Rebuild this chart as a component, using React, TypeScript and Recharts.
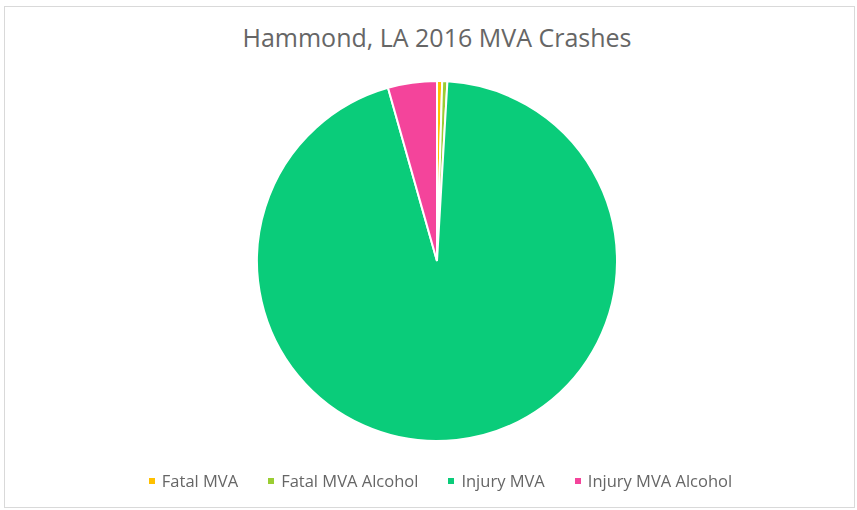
import { PieChart, Pie, Cell, Legend } from 'recharts'

// Hammond, LA 2016 motor vehicle crashes (counts)
const categories = ['Fatal MVA', 'Fatal MVA Alcohol', 'Injury MVA', 'Injury MVA Alcohol']
const crashCounts = [4, 4, 820, 38]
const sliceColors = ['#FFC000', '#9ACD32', '#0ACC7A', '#F4449B']

const data = categories.map((name, i) => ({ name, value: crashCounts[i] }))

const FONT = '"Open Sans", "Noto Sans", sans-serif'

function LegendRow({ payload }: { payload?: { value: string; color: string }[] }) {
  const items = payload ?? []
  return (
    <div style={{ display: 'flex', justifyContent: 'center', gap: 30, fontFamily: FONT, fontSize: 16.5, color: '#666', lineHeight: '20px' }}>
      {items.map((item) => (
        <div key={item.value} style={{ display: 'flex', alignItems: 'center' }}>
          <span style={{ width: 6, height: 6, background: item.color, marginRight: 7, display: 'inline-block' }} />
          <span>{item.value}</span>
        </div>
      ))}
    </div>
  )
}

export default function App() {
  return (
    <div
      style={{
        position: 'fixed',
        left: 0,
        top: 0,
        width: 857,
        height: 510,
        background: '#fff',
      }}
    >
      <div
        style={{
          position: 'absolute',
          left: 4,
          top: 6,
          width: 851,
          height: 502,
          border: '1px solid #D9D9D9',
          boxSizing: 'border-box',
        }}
      />
      <div
        style={{
          position: 'absolute',
          left: 0,
          top: 21,
          width: 874,
          textAlign: 'center',
          fontFamily: FONT,
          fontSize: 25,
          color: '#666',
          lineHeight: '32px',
        }}
      >
        Hammond, LA 2016 MVA Crashes
      </div>
      <PieChart width={857} height={510} style={{ position: 'absolute', left: 0, top: 0 }}>
        <Pie
          data={data}
          dataKey="value"
          nameKey="name"
          cx={432}
          cy={256}
          outerRadius={180}
          startAngle={90}
          endAngle={-270}
          stroke="#fff"
          strokeWidth={2}
          isAnimationActive={false}
        >
          {data.map((d, i) => (
            <Cell key={d.name} fill={sliceColors[i]} />
          ))}
        </Pie>
        <Legend
          verticalAlign="bottom"
          content={(props: any) => <LegendRow payload={props.payload} />}
          wrapperStyle={{ left: 0, width: 881, bottom: 19 }}
        />
      </PieChart>
    </div>
  )
}
